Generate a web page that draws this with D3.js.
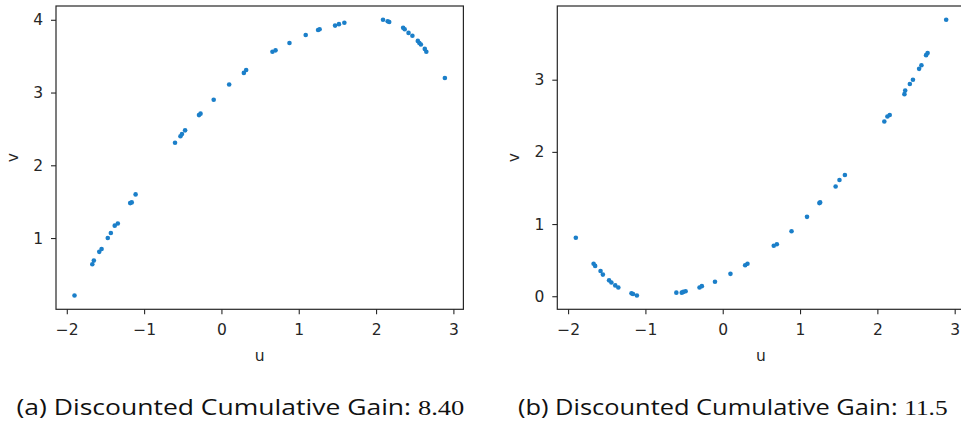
<!DOCTYPE html>
<html>
<head>
<meta charset="utf-8">
<script src="https://cdn.jsdelivr.net/npm/d3@7/dist/d3.min.js"></script>
<style>
  html, body { margin: 0; padding: 0; background: #fff; }
  svg { display: block; }
</style>
</head>
<body>
<svg id="chart" width="961" height="426"></svg>
<script>
// ---- Data ----
const uLeft = [-1.90, -1.67, -1.65, -1.58, -1.55, -1.47, -1.43, -1.38, -1.34, -1.18, -1.16, -1.11,
  -0.60, -0.53, -0.51, -0.47, -0.29, -0.27, -0.10, 0.10, 0.29, 0.32, 0.66, 0.70, 0.88, 1.09,
  1.25, 1.27, 1.47, 1.52, 1.59, 2.09, 2.15, 2.17, 2.35, 2.37, 2.42, 2.47, 2.54, 2.56, 2.58,
  2.63, 2.65, 2.89];
const vLeft = [0.21, 0.64, 0.69, 0.81, 0.85, 1.00, 1.07, 1.17, 1.20, 1.48, 1.49, 1.60,
  2.31, 2.40, 2.43, 2.48, 2.69, 2.71, 2.90, 3.11, 3.27, 3.31, 3.56, 3.58, 3.68, 3.79,
  3.86, 3.87, 3.92, 3.94, 3.96, 4.00, 3.98, 3.97, 3.89, 3.87, 3.82, 3.78, 3.71, 3.68, 3.66,
  3.60, 3.56, 3.20];

const uRight = [-1.90, -1.67, -1.65, -1.58, -1.55, -1.47, -1.44, -1.39, -1.35, -1.18, -1.16, -1.11,
  -0.60, -0.53, -0.51, -0.48, -0.30, -0.27, -0.10, 0.10, 0.29, 0.32, 0.66, 0.70, 0.89, 1.09,
  1.25, 1.26, 1.46, 1.51, 1.58, 2.09, 2.13, 2.16, 2.35, 2.36, 2.42, 2.46, 2.54, 2.57,
  2.63, 2.65, 2.89];
const vRight = [0.81, 0.45, 0.42, 0.35, 0.30, 0.22, 0.19, 0.15, 0.12, 0.04, 0.03, 0.01,
  0.05, 0.05, 0.06, 0.07, 0.12, 0.14, 0.20, 0.31, 0.43, 0.45, 0.70, 0.72, 0.90, 1.10,
  1.29, 1.30, 1.52, 1.61, 1.68, 2.42, 2.49, 2.51, 2.80, 2.85, 2.94, 3.00, 3.15, 3.20,
  3.34, 3.37, 3.83];

const xTicks = [-2, -1, 0, 1, 2, 3];
const yTicksLeft = [1, 2, 3, 4];
const yTicksRight = [0, 1, 2, 3];
const captionLeft = ["(a) Discounted Cumulative Gain: ", "8.40"];
const captionRight = ["(b) Discounted Cumulative Gain: ", "11.5"];
const xLabel = "u";
const yLabel = "v";

// ---- Drawing ----
const svg = d3.select("#chart");
const tickFont = "DejaVu Sans, sans-serif";
const tickSize = "15.5px";
const ink = "#262626";
const dotColor = "#1b7fc9";

function padded(ext) {
  const m = (ext[1] - ext[0]) * 0.05;
  return [ext[0] - m, ext[1] + m];
}

function fmt(d) { return d < 0 ? "\u2212" + Math.abs(d) : String(d); }

function panel(opts) {
  const { left, right, top, bottom, us, vs, yTicks, caption, capX, capW, yLabX } = opts;
  const x = d3.scaleLinear().domain(padded(d3.extent(us))).range([left, right]);
  const y = d3.scaleLinear().domain(padded(d3.extent(vs))).range([bottom, top]);
  const g = svg.append("g");

  // points
  g.append("g").selectAll("circle")
    .data(us.map((u, i) => [u, vs[i]]))
    .join("circle")
    .attr("cx", d => x(d[0]))
    .attr("cy", d => y(d[1]))
    .attr("r", 2.3)
    .attr("fill", dotColor);

  // x axis
  const xa = g.append("g")
    .attr("transform", `translate(0,${bottom})`)
    .call(d3.axisBottom(x).tickValues(xTicks).tickFormat(fmt).tickSize(5).tickPadding(10));
  // y axis
  const ya = g.append("g")
    .attr("transform", `translate(${left},0)`)
    .call(d3.axisLeft(y).tickValues(yTicks).tickFormat(fmt).tickSize(5).tickPadding(8));
  [xa, ya].forEach(a => {
    a.select(".domain").remove();
    a.selectAll("line").attr("stroke", ink).attr("stroke-width", 1.1);
    a.selectAll("text").attr("fill", ink).style("font-family", tickFont).style("font-size", tickSize);
  });

  // frame
  g.append("rect")
    .attr("x", left).attr("y", top)
    .attr("width", right - left).attr("height", bottom - top)
    .attr("fill", "none").attr("stroke", ink).attr("stroke-width", 1.2);

  // axis labels
  g.append("text")
    .attr("x", (left + right) / 2).attr("y", 361)
    .attr("text-anchor", "middle")
    .attr("fill", ink).style("font-family", tickFont).style("font-size", tickSize)
    .text(xLabel);
  g.append("text")
    .attr("transform", `translate(${yLabX},${(top + bottom) / 2}) rotate(-90)`)
    .attr("text-anchor", "middle")
    .attr("fill", ink).style("font-family", tickFont).style("font-size", tickSize)
    .text(yLabel);

  // caption
  const cg = svg.append("g");
  const t = cg.append("text")
    .attr("x", 0).attr("y", 0)
    .attr("fill", "#111");
  t.append("tspan").style("font-family", "Open Sans, sans-serif").style("font-size", "21px").text(caption[0]);
  t.append("tspan").style("font-family", "Liberation Serif, serif").style("font-size", "21px").text(caption[1]);
  const w = t.node().getComputedTextLength();
  cg.attr("transform", `translate(${capX},415) scale(${capW / w},1)`);
}

panel({ left: 56, right: 463.4, top: 6, bottom: 309.3, us: uLeft, vs: vLeft,
  yTicks: yTicksLeft, caption: captionLeft, capX: 16.5, capW: 448, yLabX: 18 });
panel({ left: 557.3, right: 964.7, top: 6, bottom: 309.3, us: uRight, vs: vRight,
  yTicks: yTicksRight, caption: captionRight, capX: 518, capW: 430, yLabX: 519 });
</script>
</body>
</html>
